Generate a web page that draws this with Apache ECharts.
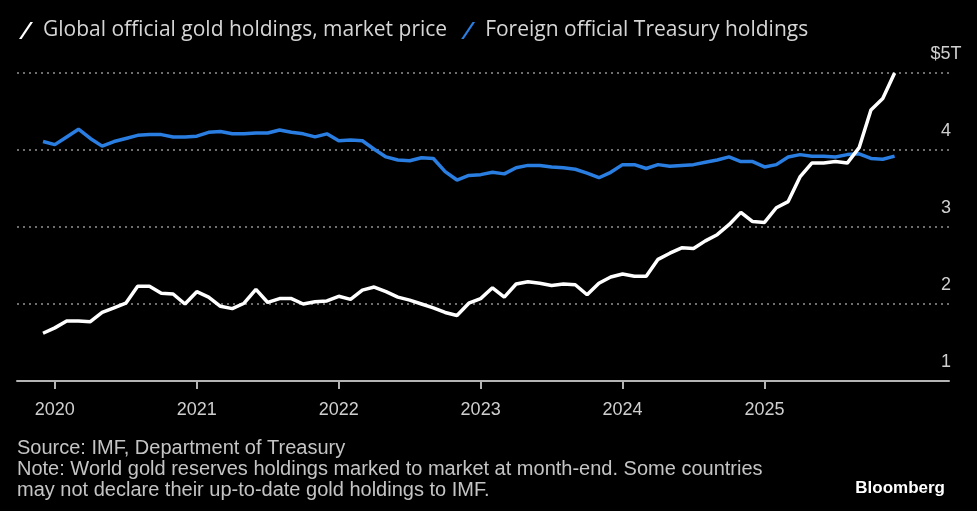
<!DOCTYPE html>
<html>
<head>
<meta charset="utf-8">
<script src="https://cdn.jsdelivr.net/npm/echarts@6/dist/echarts.min.js"></script>
<style>
  html, body { margin: 0; padding: 0; background: #000; }
  #chart { width: 977px; height: 511px; }
</style>
</head>
<body>
<div id="chart"></div>
<script>
// month of each point (month-end values, plotted at start of next month)
const months = [
    '2019-12',
    '2020-01', '2020-02', '2020-03', '2020-04', '2020-05', '2020-06', '2020-07', '2020-08', '2020-09', '2020-10', '2020-11', '2020-12',
    '2021-01', '2021-02', '2021-03', '2021-04', '2021-05', '2021-06', '2021-07', '2021-08', '2021-09', '2021-10', '2021-11', '2021-12',
    '2022-01', '2022-02', '2022-03', '2022-04', '2022-05', '2022-06', '2022-07', '2022-08', '2022-09', '2022-10', '2022-11', '2022-12',
    '2023-01', '2023-02', '2023-03', '2023-04', '2023-05', '2023-06', '2023-07', '2023-08', '2023-09', '2023-10', '2023-11', '2023-12',
    '2024-01', '2024-02', '2024-03', '2024-04', '2024-05', '2024-06', '2024-07', '2024-08', '2024-09', '2024-10', '2024-11', '2024-12',
    '2025-01', '2025-02', '2025-03', '2025-04', '2025-05', '2025-06', '2025-07', '2025-08', '2025-09', '2025-10', '2025-11', '2025-12'
];
// $ trillions
const goldHoldings = [
    1.62,
    1.69, 1.78, 1.78, 1.77, 1.89, 1.95, 2.01, 2.23, 2.23, 2.14, 2.13, 2.00,
    2.16, 2.09, 1.97, 1.94, 2.01, 2.19, 2.02, 2.07, 2.07, 2.00, 2.03, 2.04,
    2.10, 2.06, 2.18, 2.22, 2.16, 2.09, 2.05, 2.00, 1.95, 1.89, 1.85, 2.01,
    2.07, 2.21, 2.09, 2.26, 2.29, 2.27, 2.24, 2.26, 2.25, 2.12, 2.27, 2.35,
    2.39, 2.36, 2.36, 2.58, 2.66, 2.73, 2.72, 2.82, 2.90, 3.03, 3.19, 3.07,
    3.06, 3.25, 3.33, 3.65, 3.83, 3.83, 3.85, 3.83, 4.03, 4.52, 4.67, 5.00
];
const treasuryHoldings = [
    4.11,
    4.07, 4.17, 4.27, 4.15, 4.05, 4.11, 4.15, 4.19, 4.20, 4.20, 4.17, 4.17,
    4.18, 4.23, 4.24, 4.21, 4.21, 4.22, 4.22, 4.26, 4.23, 4.21, 4.17, 4.21,
    4.12, 4.13, 4.12, 4.01, 3.91, 3.87, 3.86, 3.90, 3.89, 3.72, 3.61, 3.67,
    3.68, 3.71, 3.69, 3.77, 3.80, 3.80, 3.78, 3.77, 3.75, 3.70, 3.64, 3.71,
    3.81, 3.81, 3.76, 3.81, 3.79, 3.80, 3.81, 3.84, 3.87, 3.91, 3.85, 3.85,
    3.78, 3.81, 3.91, 3.94, 3.92, 3.92, 3.91, 3.94, 3.95, 3.89, 3.88, 3.92
];
const yearLabels = ['2020', '2021', '2022', '2023', '2024', '2025'];
const yTicks = [1, 2, 3, 4, 5];

const labelFont = '"Liberation Sans", Arial, sans-serif';

// months counted from Jan 2020
const monthIndex = (s) => {
    const p = s.split('-');
    return (Number(p[0]) - 2020) * 12 + Number(p[1]) - 1;
};
const yearTicks = yearLabels.map(y => (Number(y) - 2020) * 12);
const goldData = months.map((m, i) => [monthIndex(m), goldHoldings[i]]);
const treasuryData = months.map((m, i) => [monthIndex(m), treasuryHoldings[i]]);

const myChart = echarts.init(document.getElementById('chart'));
const option = {
    backgroundColor: '#000',
    animation: false,
    legend: {
        left: 14,
        top: 15,
        itemWidth: 14,
        itemHeight: 17,
        itemGap: 14,
        icon: 'path://M0,17 L2.6,17 L14,0 L11.4,0 Z',
        data: ['Global official gold holdings, market price', 'Foreign official Treasury holdings'],
        textStyle: {
            color: '#d6d6d6',
            fontSize: 21,
            fontFamily: '"Open Sans", sans-serif',
            padding: [0, 0, 0, 5]
        }
    },
    grid: {
        left: 17,
        right: 28,
        top: 73,
        bottom: 130
    },
    xAxis: {
        type: 'value',
        min: -3.2,
        max: 75.6,
        splitLine: { show: false },
        axisLine: {
            lineStyle: { color: '#b4b4b4', width: 2 }
        },
        axisTick: {
            show: true,
            length: 8,
            customValues: yearTicks,
            lineStyle: { color: '#b4b4b4', width: 2 }
        },
        axisLabel: {
            customValues: yearTicks,
            margin: 20,
            color: '#cfcfcf',
            fontSize: 18,
            fontFamily: labelFont,
            formatter: (v) => String(2020 + v / 12)
        }
    },
    yAxis: {
        type: 'value',
        position: 'right',
        min: yTicks[0],
        max: yTicks[yTicks.length - 1],
        interval: 1,
        axisLine: { show: false },
        axisTick: { show: false },
        splitLine: {
            lineStyle: { color: '#6e6e6e', width: 2, type: [2, 4] }
        },
        axisLabel: {
            margin: -3,
            align: 'center',
            verticalAlign: 'bottom',
            lineHeight: 38,
            color: '#cfcfcf',
            fontSize: 18,
            fontFamily: labelFont,
            formatter: (v) => v === 5 ? '$5T' : String(v)
        }
    },
    series: [
        {
            name: 'Foreign official Treasury holdings',
            type: 'line',
            data: treasuryData,
            showSymbol: false,
            z: 2,
            lineStyle: { color: '#2a7de1', width: 3.5 },
            itemStyle: { color: '#2a7de1' }
        },
        {
            name: 'Global official gold holdings, market price',
            type: 'line',
            data: goldData,
            showSymbol: false,
            z: 3,
            lineStyle: { color: '#ffffff', width: 3.5 },
            itemStyle: { color: '#ffffff' }
        }
    ],
    graphic: [
        {
            type: 'text',
            left: 17,
            top: 438,
            style: {
                text: 'Source: IMF, Department of Treasury',
                fill: '#c4c4c4',
                font: '20px ' + labelFont
            }
        },
        {
            type: 'text',
            left: 17,
            top: 459,
            style: {
                text: 'Note: World gold reserves holdings marked to market at month-end. Some countries\nmay not declare their up-to-date gold holdings to IMF.',
                fill: '#c4c4c4',
                font: '20px ' + labelFont,
                lineHeight: 21
            }
        },
        {
            type: 'text',
            right: 32,
            top: 480,
            style: {
                text: 'Bloomberg',
                fill: '#ffffff',
                font: 'bold 17px ' + labelFont
            }
        }
    ]
};
option && myChart.setOption(option);
</script>
</body>
</html>
